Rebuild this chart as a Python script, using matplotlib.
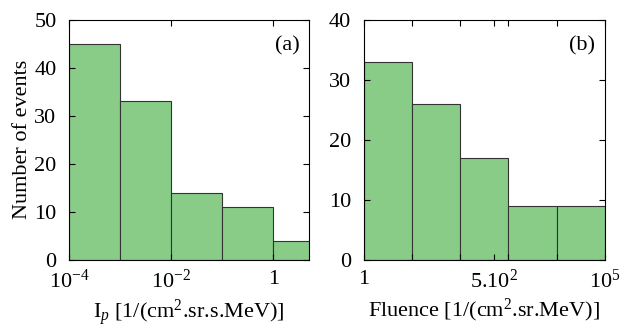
import matplotlib
matplotlib.use("Agg")

import matplotlib.pyplot as plt
import numpy as np

# panel (a): peak intensity histogram
ip_edges = [1e-4, 1e-3, 1e-2, 1e-1, 1, 10]
ip_counts = [45, 33, 14, 11, 4]
ip_ticks = [1e-4, 1e-2, 1]
ip_ticklabels = [r"$10^{-4}$", r"$10^{-2}$", "1"]

# panel (b): fluence histogram
fl_edges = [1, 10, 100, 1e3, 1e4, 1e5]
fl_counts = [33, 26, 17, 9, 9]
fl_ticks = [1, 10, 100, 500, 1e3, 1e4, 1e5]
fl_ticklabels = ["1", "", "", r"5.10$^2$", "", "", r"10$^5$"]

plt.rcParams["font.family"] = ["Liberation Serif", "DejaVu Serif"]
plt.rcParams["mathtext.fontset"] = "custom"
plt.rcParams["mathtext.rm"] = "Liberation Serif"
plt.rcParams["mathtext.it"] = "Liberation Serif:italic"
plt.rcParams["font.size"] = 16

green = "#88cc88"
edge = "#333333"

fig = plt.figure(figsize=(6.22, 3.29), dpi=100)
ax1 = fig.add_axes([0.111, 0.21, 0.386, 0.73])
ax2 = fig.add_axes([0.585, 0.21, 0.3875, 0.73])

for ax, edges, counts in [(ax1, ip_edges, ip_counts), (ax2, fl_edges, fl_counts)]:
    e = np.array(edges)
    ax.bar(e[:-1], counts, width=np.diff(e), align="edge",
           color=green, edgecolor=edge, linewidth=0.8)
    ax.set_xscale("log")
    ax.tick_params(which="both", direction="in", top=True, right=True,
                   labelsize=16)
    ax.tick_params(which="major", length=4)
    ax.tick_params(which="minor", length=2)
    ax.tick_params(axis="x", which="both", pad=7)
    ax.tick_params(axis="y", which="both", pad=9)

ax1.set_xlim(1e-4, 5)
ax1.set_ylim(0, 50)
ax1.set_yticks([0, 10, 20, 30, 40, 50])
ax1.set_xticks(ip_ticks)
ax1.set_xticklabels(ip_ticklabels)
ax1.set_ylabel("Number of events", labelpad=2)
ax1.set_xlabel(r"I$_p$ [1/(cm$^2$.sr.s.MeV)]", labelpad=3)
ax1.text(0.96, 0.93, "(a)", transform=ax1.transAxes, ha="right", va="top")

ax2.set_xlim(1, 1e5)
ax2.set_ylim(0, 40)
ax2.set_yticks([0, 10, 20, 30, 40])
ax2.set_xticks(fl_ticks)
ax2.set_xticklabels(fl_ticklabels)
ax2.minorticks_off()
ax2.set_xlabel(r"Fluence [1/(cm$^2$.sr.MeV)]", labelpad=3)
ax2.text(0.96, 0.93, "(b)", transform=ax2.transAxes, ha="right", va="top")

fig.savefig("out.png", dpi=100)
plt.close(fig)
